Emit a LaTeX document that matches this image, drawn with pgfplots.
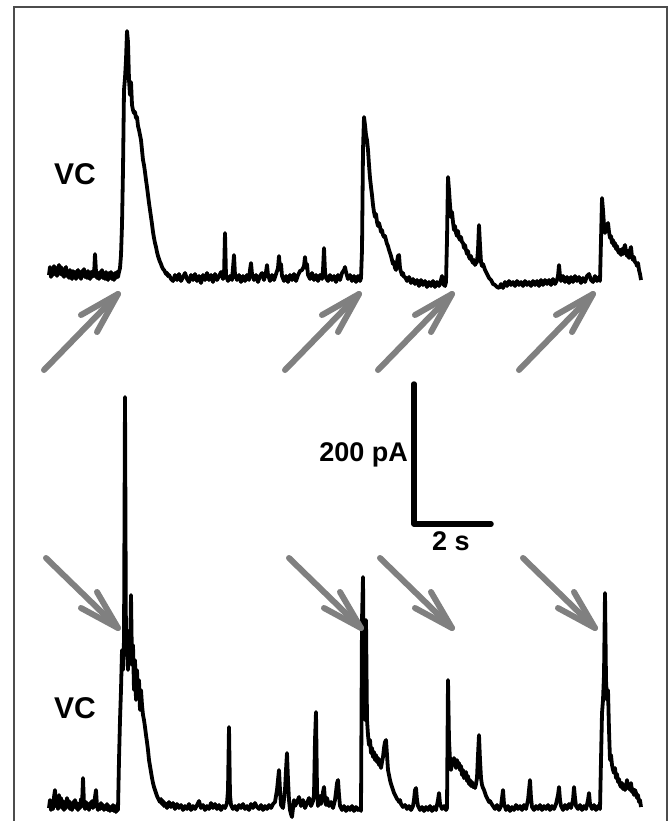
\documentclass[border=0pt]{standalone}
\usepackage{pgfplots}
\pgfplotsset{compat=1.18}
\usepackage{fontspec}
\setmainfont{Liberation Sans}

% Two voltage-clamp recordings with stimulus arrows and a scale bar.
% Coordinates are in a 669 x 821 frame with y pointing down.

\begin{document}
\begin{tikzpicture}
\begin{axis}[
  width=669pt, height=821pt, scale only axis,
  xmin=0, xmax=669, ymin=0, ymax=821, y dir=reverse,
  hide axis, clip=true,
  trace/.style={black, line width=3.8pt, line join=round, mark=none},
  stim/.style={black!50, line width=6pt, line cap=round, line join=round, mark=none},
]

% invisible corners so the page spans the whole panel
\addplot[draw=none, mark=none] coordinates {(0,0) (669,821)};

% panel frame
\addplot[black!70, line width=1.5pt, mark=none] coordinates {(14,821) (14,7) (667,7) (667,821)};

% upper trace
\addplot[trace] coordinates {
(49,275)(50,267)(51,277)(52,269)(53,275)(54,266)(55,274)(56,268)(57,276)(58,269)(59,265)(60,274)(61,267)(62,275)(63,269)(64,277)(65,270)(66,267)(67,276)(68,271)(69,278)(70,270)(71,275)(72,279)(73,271)(74,277)(75,272)(76,279)(77,273)(78,270)(79,277)(80,272)(81,279)(82,271)(83,276)(84,269)(85,277)(86,272)(87,278)(88,271)(89,276)(90,279)(91,272)(92,277)(93,271)(94,276)(95,254)(96,272)(97,278)(98,273)(99,279)(100,272)(101,277)(102,270)(103,278)(104,273)(105,279)(106,272)(107,277)(108,280)(109,273)(110,278)(111,272)(112,279)(113,274)(114,280)(115,273)(116,278)(117,272)(118,277)(119,272)
(120,268)(121,255)(122,225)(123,170)(124,90)(125,78)(126,60)(127,31)(128,42)(129,80)(130,95)(131,82)(132,105)(133,110)(134,113)(135,112)(136,118)(137,117)(138,126)(139,130)(140,135)(141,140)(142,150)(143,160)(144,165)(145,172)(146,180)(147,187)(148,195)(149,203)(150,210)(151,217)(152,224)(153,232)(154,238)(155,243)(156,247)(157,252)(158,256)(159,259)(160,262)(161,264)(162,267)(163,269)(164,270)(165,272)(166,274)(167,273)(168,276)(169,275)
(171,279)(173,281)(175,275)(177,280)(179,274)(181,281)(183,277)(185,273)(187,279)(189,282)(191,275)(193,280)(195,274)(197,281)(199,276)(201,283)(203,275)(205,280)(207,273)(209,280)(211,275)(213,282)(215,274)(217,280)(219,276)(221,272)(223,279)(224,276)(225,233)(226,276)(228,281)(230,276)(232,280)(233,268)(234,255)(235,275)(237,280)(239,275)(241,282)(243,276)(245,281)(247,275)(249,280)(250,270)(251,263)(252,274)(254,280)(256,275)(258,282)(260,276)(262,273)(264,280)(266,272)(267,265)(268,275)(270,281)(272,275)(274,280)(276,274)(278,268)(279,256)(280,270)(281,264)(282,276)(284,281)(286,276)(288,282)(290,275)(292,280)(294,274)(296,281)(298,275)(300,271)(302,270)(304,266)(305,257)(306,268)(307,264)(308,275)(310,279)(312,273)(314,280)(316,275)(318,281)(320,275)(322,279)(323,270)(324,248)(325,272)(326,278)(328,281)(330,275)(332,280)(334,276)(336,282)(338,275)(340,280)(342,273)(344,270)(345,267)(346,272)(348,279)(350,275)(352,281)(354,276)(356,282)(358,276)(360,281)(361,278)
(362,250)(363,150)(364,117)(365,125)(366,135)(367,140)(368,150)(369,165)(370,178)(371,187)(372,195)(373,205)(374,212)(375,217)(376,214)(377,222)(378,226)(379,223)(380,227)(381,232)(382,230)(383,235)(384,237)(385,236)(386,240)(387,244)(388,246)(389,250)(390,253)(391,256)(392,260)(393,264)(394,262)(395,268)(396,270)(397,262)(398,256)(399,255)(400,268)(401,272)(402,275)(403,273)(404,277)(405,277)(407,281)(409,277)(411,283)(413,279)(415,284)(417,280)(419,286)(421,280)(423,285)(425,281)(427,287)(429,282)(431,286)(433,281)(435,287)(437,282)(439,286)(441,280)(442,276)(443,284)(445,286)(446,282)
(447,240)(448,177)(449,190)(450,205)(451,217)(452,212)(453,222)(454,230)(455,226)(456,233)(457,236)(458,231)(459,238)(460,240)(461,237)(462,242)(463,243)(464,248)(465,245)(466,250)(467,254)(468,251)(469,257)(470,259)(471,256)(472,261)(473,263)(474,260)(475,265)(476,263)(477,262)(478,250)(479,225)(480,245)(481,262)(482,266)(483,264)(484,267)(485,270)(486,272)(487,274)(488,276)(489,278)(490,279)(491,280)(493,284)(495,285)(497,287)(499,288)(501,284)(503,288)(505,282)(507,286)(509,281)(511,285)(513,282)(515,286)(517,281)(519,285)(521,282)(523,286)(525,281)(527,285)(529,282)(531,286)(533,281)(535,285)(537,281)(539,286)(541,280)(543,285)(545,280)(547,284)(549,280)(551,285)(553,279)(555,284)(557,280)(558,276)(559,265)(560,276)(561,281)(563,276)(565,282)(567,277)(569,283)(571,277)(573,282)(575,276)(577,281)(579,277)(581,283)(583,278)(585,282)(587,276)(589,274)(591,280)(593,282)(595,276)(597,281)(599,277)(600,281)
(601,240)(602,198)(603,210)(604,225)(605,233)(606,228)(607,226)(608,223)(609,232)(610,238)(611,236)(612,243)(613,240)(614,246)(615,243)(616,249)(617,246)(618,251)(619,253)(620,250)(621,255)(622,249)(623,254)(624,248)(625,245)(626,252)(627,256)(628,251)(629,258)(630,250)(631,247)(632,257)(633,260)(634,257)(635,262)(636,263)(637,266)(638,263)(639,270)(640,274)(641,280)
};

% lower trace
\addplot[trace] coordinates {
(49,808)(50,800)(51,810)(52,803)(53,809)(54,797)(55,790)(56,806)(57,800)(58,809)(59,795)(60,806)(61,798)(62,808)(63,801)(64,810)(65,803)(66,808)(67,798)(68,806)(69,801)(70,809)(71,804)(72,810)(73,802)(74,807)(75,800)(76,808)(77,803)(78,810)(79,805)(80,808)(81,799)(82,806)(83,778)(84,804)(85,809)(86,802)(87,808)(88,804)(89,810)(90,803)(91,807)(92,801)(93,808)(94,804)(95,797)(96,790)(97,806)(98,810)(99,805)(100,809)(101,803)(102,808)(103,805)(104,810)(105,806)(106,809)(107,804)(108,810)(109,806)(110,811)(111,807)(112,810)(113,805)(114,811)(115,806)(116,812)(117,808)(118,810)
(119,760)(120,720)(121,690)(122,650)(123,670)(124,640)(125,397)(126,655)(127,630)(128,670)(129,640)(130,660)(131,595)(132,665)(133,645)(134,690)(135,660)(136,700)(137,670)(138,695)(139,680)(140,710)(141,690)(142,705)(143,715)(144,720)(145,727)(146,735)(147,742)(148,750)(149,760)(150,766)(151,772)(152,778)(153,783)(154,787)(155,790)(156,793)(157,796)(158,798)(159,800)(160,802)(161,799)(162,804)(163,801)(164,806)(165,803)
(167,808)(169,802)(171,807)(173,803)(175,809)(177,804)(179,808)(181,805)(183,810)(185,806)(187,809)(189,804)(191,810)(193,806)(195,809)(197,805)(199,801)(201,808)(203,805)(205,810)(207,806)(209,809)(211,803)(213,808)(215,804)(217,809)(219,805)(221,810)(223,806)(225,808)(227,803)(228,790)(229,727)(230,795)(231,805)(233,809)(235,806)(237,810)(239,805)(241,808)(243,804)(245,809)(247,806)(249,810)(251,804)(253,808)(255,803)(257,807)(259,809)(261,805)(263,810)(265,806)(267,809)(269,805)(271,808)(273,804)(275,802)(277,790)(278,780)(279,770)(280,790)(281,805)(283,808)(285,790)(286,770)(287,753)(288,780)(289,800)(290,810)(291,814)(292,817)(293,808)(294,800)(295,806)(297,802)(299,797)(301,806)(303,800)(305,808)(307,803)(309,798)(311,806)(313,801)(314,795)(315,740)(316,712)(317,790)(318,806)(319,800)(320,796)(321,804)(322,799)(323,792)(324,787)(325,800)(326,805)(327,798)(329,806)(331,802)(333,808)(335,800)(336,792)(337,783)(338,780)(339,795)(340,806)(342,810)(344,806)(346,811)(348,807)(350,810)(352,806)(354,811)(356,807)(358,810)(360,808)(361,811)
(362,620)(363,577)(364,700)(365,720)(366,620)(367,720)(368,735)(369,745)(370,740)(371,753)(372,748)(373,757)(374,752)(375,760)(376,755)(377,762)(378,758)(379,765)(380,760)(381,768)(382,762)(383,757)(384,748)(385,742)(386,740)(387,755)(388,770)(389,775)(390,780)(391,784)(392,787)(393,790)(394,793)(395,795)(396,797)(397,799)(398,800)(399,802)(400,800)(401,804)(403,807)(405,805)(407,809)(409,806)(411,810)(413,806)(414,800)(415,790)(416,788)(417,800)(418,806)(420,810)(422,807)(424,811)(426,807)(428,810)(430,806)(432,811)(434,807)(436,810)(438,800)(439,793)(440,804)(442,809)(444,806)(446,810)(447,808)
(448,680)(449,740)(450,760)(451,770)(452,762)(453,765)(454,758)(455,763)(456,768)(457,760)(458,765)(459,763)(460,770)(461,766)(462,775)(463,770)(464,778)(465,777)(466,772)(467,781)(468,776)(469,784)(470,780)(471,786)(472,782)(473,787)(474,785)(475,788)(476,784)(477,778)(478,755)(479,735)(480,760)(481,778)(482,785)(483,788)(484,790)(485,793)(486,796)(487,798)(488,800)(489,802)(490,801)(491,803)(493,806)(495,809)(497,805)(499,810)(501,806)(502,798)(503,790)(504,804)(506,810)(508,806)(510,811)(512,807)(514,810)(516,805)(518,809)(520,806)(522,810)(524,805)(526,809)(528,800)(529,790)(530,780)(531,798)(532,807)(534,810)(536,806)(538,809)(540,805)(542,810)(544,806)(546,809)(548,805)(550,810)(552,806)(554,809)(556,804)(558,795)(559,787)(560,800)(561,806)(563,810)(565,805)(567,809)(569,804)(571,808)(573,800)(574,787)(575,798)(576,806)(578,809)(580,805)(582,810)(584,806)(586,809)(588,800)(589,793)(590,804)(592,809)(594,805)(596,810)(598,806)(600,809)
(601,760)(602,713)(603,700)(604,675)(605,593)(606,680)(607,700)(608,690)(609,730)(610,760)(611,755)(612,765)(613,770)(614,773)(615,768)(616,778)(617,774)(618,782)(619,779)(620,785)(621,787)(622,783)(623,789)(624,785)(625,790)(626,786)(627,780)(628,788)(629,785)(630,790)(631,783)(632,792)(633,789)(634,795)(635,790)(636,793)(637,798)(638,795)(639,802)(640,800)(641,807)
};

% stimulus arrows under the upper trace
\addplot[stim] coordinates {(44,370)(118,294)};
\addplot[stim] coordinates {(81,315)(118,294)(97,332)};
\addplot[stim] coordinates {(285,370)(359,294)};
\addplot[stim] coordinates {(322,315)(359,294)(338,332)};
\addplot[stim] coordinates {(378,370)(452,294)};
\addplot[stim] coordinates {(415,315)(452,294)(431,332)};
\addplot[stim] coordinates {(519,370)(593,294)};
\addplot[stim] coordinates {(556,315)(593,294)(572,332)};

% stimulus arrows above the lower trace
\addplot[stim] coordinates {(46,558)(118,628)};
\addplot[stim] coordinates {(81,608)(118,628)(97,592)};
\addplot[stim] coordinates {(289,558)(361,628)};
\addplot[stim] coordinates {(324,608)(361,628)(340,592)};
\addplot[stim] coordinates {(380,558)(452,628)};
\addplot[stim] coordinates {(415,608)(452,628)(431,592)};
\addplot[stim] coordinates {(523,558)(595,628)};
\addplot[stim] coordinates {(558,608)(595,628)(574,592)};

% scale bar: 200 pA by 2 s
\addplot[black, line width=5.5pt, line cap=round, line join=round, mark=none] coordinates {(414,384)(414,524)(491,524)};

\node[font=\bfseries\fontsize{27}{32}\selectfont, anchor=east, inner sep=0pt] at (axis cs:408,455) {200 pA};
\node[font=\bfseries\fontsize{27}{32}\selectfont, inner sep=0pt] at (axis cs:451,541) {2 s};
\node[font=\bfseries\fontsize{30}{36}\selectfont, inner sep=0pt] at (axis cs:75,174) {VC};
\node[font=\bfseries\fontsize{30}{36}\selectfont, inner sep=0pt] at (axis cs:75,708) {VC};

\end{axis}
\end{tikzpicture}
\end{document}
